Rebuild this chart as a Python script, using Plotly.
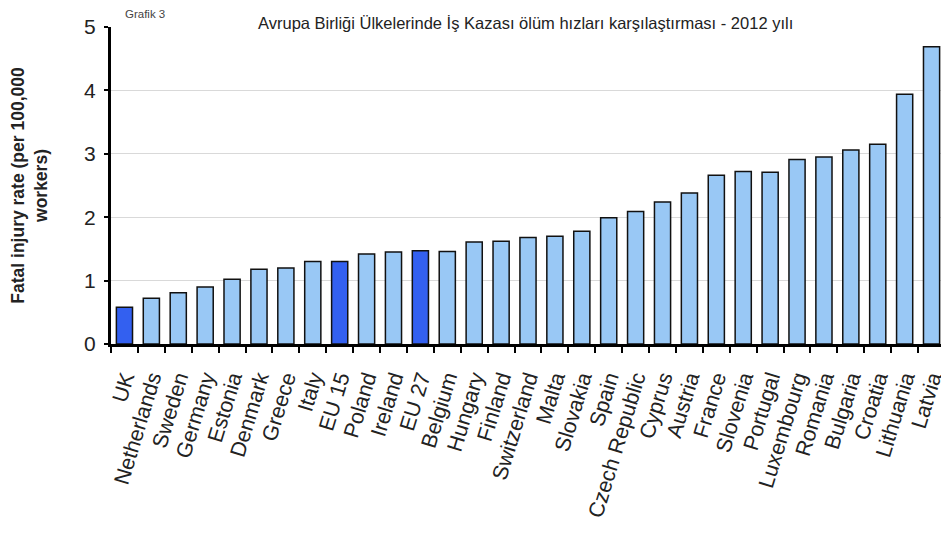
import plotly.graph_objects as go

countries = ["UK", "Netherlands", "Sweden", "Germany", "Estonia", "Denmark", "Greece", "Italy",
             "EU 15", "Poland", "Ireland", "EU 27", "Belgium", "Hungary", "Finland", "Switzerland",
             "Malta", "Slovakia", "Spain", "Czech Republic", "Cyprus", "Austria", "France",
             "Slovenia", "Portugal", "Luxembourg", "Romania", "Bulgaria", "Croatia", "Lithuania", "Latvia"]
rates = [0.58, 0.72, 0.81, 0.90, 1.02, 1.18, 1.20, 1.30,
         1.30, 1.42, 1.45, 1.47, 1.46, 1.61, 1.62, 1.68,
         1.70, 1.78, 1.99, 2.09, 2.24, 2.38, 2.66,
         2.72, 2.71, 2.91, 2.95, 3.06, 3.15, 3.94, 4.69]
highlight = ["UK", "EU 15", "EU 27"]

colors = ["#3360f0" if c in highlight else "#99c8f5" for c in countries]

fig = go.Figure(go.Bar(
    x=countries, y=rates,
    marker=dict(color=colors, line=dict(color="#111111", width=1.5)),
))

# page body has an 8px margin, so the figure is sized/positioned to compensate
fig.update_layout(
    width=941, height=536,
    margin=dict(l=103, r=4, t=19, b=200),
    paper_bgcolor="white", plot_bgcolor="white",
    bargap=0.4,
    showlegend=False,
    font=dict(family="Liberation Sans, Arial, sans-serif", color="#222222"),
)
fig.update_yaxes(
    range=[0, 5], dtick=1, showgrid=True, gridcolor="#d9d9d9", gridwidth=1,
    showline=True, linecolor="black", linewidth=3,
    ticks="outside", ticklen=4, tickcolor="black", tickwidth=2,
    ticklabelstandoff=4,
    tickfont=dict(size=21, color="#222222"),
    title=dict(text="<b>Fatal injury rate (per 100,000<br>workers)</b>",
               font=dict(size=17.5, color="#222222"), standoff=38),
    zeroline=False, automargin=False,
)
fig.update_xaxes(
    showline=True, linecolor="black", linewidth=3,
    tickmode="array", tickvals=countries, ticktext=countries,
    ticks="outside", tickson="boundaries", ticklen=6, tickcolor="black", tickwidth=2,
    ticklabelstandoff=10,
    tickangle=-73, tickfont=dict(size=21.5, color="#222222"), automargin=False,
)
fig.add_annotation(text="Avrupa Birliği Ülkelerinde İş Kazası ölüm hızları karşılaştırması - 2012 yılı",
                   xref="paper", yref="paper", x=0.4976, y=1.0126, yanchor="middle", xanchor="center",
                   showarrow=False, font=dict(size=16.5, family="Liberation Sans, Arial", color="#222222"),
                   bgcolor="white", borderpad=0)
fig.add_annotation(text="Grafik 3", xref="paper", yref="paper", x=0.0144, y=1.04, xanchor="left",
                   yanchor="middle", showarrow=False,
                   font=dict(size=11.5, family="Liberation Sans, Arial", color="#444444"))

fig.write_html("out.html")
